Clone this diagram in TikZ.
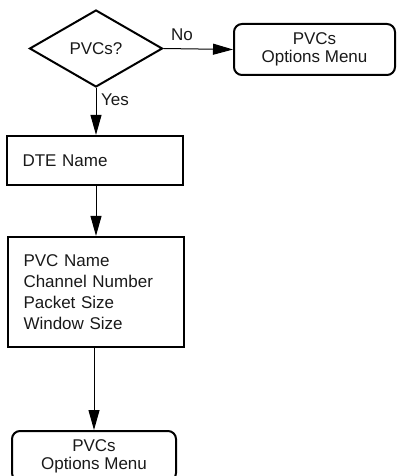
\documentclass[tikz,border=0pt]{standalone}
\usepackage{fontspec}
\setmainfont{Liberation Sans}
\usetikzlibrary{shapes.geometric,arrows.meta}
\begin{document}
\begin{tikzpicture}[x=1pt,y=-1pt,
  every node/.style={font=\fontsize{17}{18}\selectfont, text=black!90},
  decision/.style={diamond, draw, line width=2pt, inner sep=0pt, aspect=1.72,
    minimum width=133pt, minimum height=77pt},
  menubox/.style={draw, line width=2pt, rounded corners=8pt, align=center, inner sep=0pt},
  stepbox/.style={draw, line width=2.2pt, align=left, inner xsep=15pt, inner ysep=0pt,
    text width=145pt, minimum width=176pt},
  flow/.style={line width=1pt, -{Triangle[length=20pt,width=11pt]}},
  lbl/.style={inner sep=0pt}]
\useasboundingbox (0,0) rectangle (396,476);
\clip (0,0) rectangle (396,476);

\node[decision] (d) at (96,48.5) {PVCs?};
\node[menubox, minimum width=161pt, minimum height=51pt] (r) at (314.5,49.5) {PVCs\\Options Menu};
\node[stepbox, minimum height=49pt] (dte) at (95,160.5) {DTE Name};
\node[stepbox, minimum height=110pt, font=\fontsize{17}{21}\selectfont] (pvc) at (96,292) {PVC Name\\Channel Number\\Packet Size\\Window Size};
\node[menubox, minimum width=164pt, minimum height=50pt] (bot) at (94,456) {PVCs\\Options Menu};

\draw[flow] (d.east) -- (r.west);
\node[lbl] (no) at (182,35) {No};
\draw[flow] (d.south) -- (d.south |- dte.north);
\node[lbl] (yes) at (115,100) {Yes};
\draw[flow] (dte.south -| 96,0) -- (pvc.north -| 96,0);
\draw[flow] (bot.north |- pvc.south) -- (bot.north);
\end{tikzpicture}
\end{document}
